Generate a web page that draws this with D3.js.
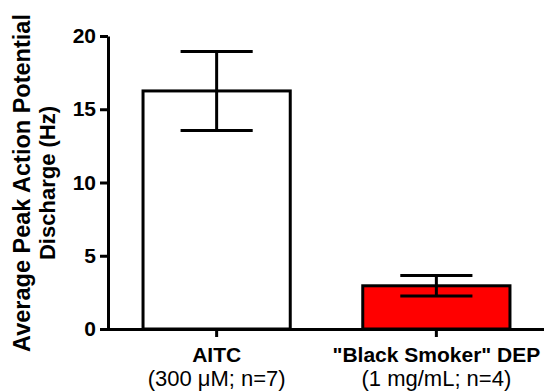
<!DOCTYPE html>
<html>
<head>
<meta charset="utf-8">
<script src="https://cdn.jsdelivr.net/npm/d3@7"></script>
<style>
  body { margin: 0; background: #fff; }
  text { font-family: "Liberation Sans", Arial, sans-serif; fill: #000; }
</style>
</head>
<body>
<svg id="chart" width="544" height="392"></svg>
<script>
var groups = ["AITC", "\"Black Smoker\" DEP"];
var subLabels = ["(300 \u03bcM; n=7)", "(1 mg/mL; n=4)"];
var means = [16.25, 2.95];
var errors = [2.7, 0.7];
var colors = ["#FFFFFF", "#FF0000"];
var yTicks = [0, 5, 10, 15, 20];

var svg = d3.select("#chart");

var x = d3.scaleBand()
    .domain(groups)
    .range([107, 546])
    .paddingInner(0.33)
    .paddingOuter(0.164);

var y = d3.scaleLinear()
    .domain([0, 20])
    .range([329, 36]);

// bars
svg.selectAll(".bar")
    .data(groups)
    .enter().append("rect")
    .attr("class", "bar")
    .attr("x", function (d) { return x(d); })
    .attr("y", function (d, i) { return y(means[i]); })
    .attr("width", x.bandwidth())
    .attr("height", function (d, i) { return y(0) - y(means[i]); })
    .style("fill", function (d, i) { return colors[i]; })
    .style("stroke", "#000")
    .style("stroke-width", 3);

// error bars
var capHalf = x.bandwidth() * 0.245;
groups.forEach(function (g, i) {
    var cx = x(g) + x.bandwidth() / 2;
    var top = y(means[i] + errors[i]);
    var bot = y(means[i] - errors[i]);
    var eb = svg.append("g").style("stroke", "#000").style("stroke-width", 3);
    eb.append("line").attr("x1", cx).attr("x2", cx).attr("y1", top).attr("y2", bot);
    eb.append("line").attr("x1", cx - capHalf).attr("x2", cx + capHalf).attr("y1", top).attr("y2", top);
    eb.append("line").attr("x1", cx - capHalf).attr("x2", cx + capHalf).attr("y1", bot).attr("y2", bot);
});

// y axis
var yAxis = svg.append("g")
    .attr("transform", "translate(108,0)")
    .call(d3.axisLeft(y).tickValues(yTicks).tickSize(8).tickPadding(4).tickSizeOuter(0));
yAxis.select(".domain").style("stroke-width", 3);
yAxis.selectAll(".tick line").style("stroke-width", 3);
yAxis.selectAll(".tick text")
    .style("font-size", "21px")
    .style("font-weight", "bold")
    .style("font-family", "'Liberation Sans', Arial, sans-serif");

// x axis
var xAxis = svg.append("g")
    .attr("transform", "translate(0,329)")
    .call(d3.axisBottom(x).tickSize(8).tickSizeOuter(0).tickFormat(""));
xAxis.select(".domain").style("stroke-width", 3);
xAxis.selectAll(".tick line").style("stroke-width", 3);

// x labels
groups.forEach(function (g, i) {
    var cx = x(g) + x.bandwidth() / 2;
    svg.append("text")
        .attr("x", cx).attr("y", 362)
        .attr("text-anchor", "middle")
        .style("font-size", "21px")
        .style("font-weight", "bold")
        .text(g);
    svg.append("text")
        .attr("x", cx).attr("y", 386)
        .attr("text-anchor", "middle")
        .style("font-size", "22px")
        .text(subLabels[i]);
});

// y title
var yt = svg.append("g").attr("transform", "translate(0,183) rotate(-90)");
yt.append("text")
    .attr("x", 0).attr("y", 30)
    .attr("text-anchor", "middle")
    .style("font-size", "23.5px")
    .style("font-weight", "bold")
    .text("Average Peak Action Potential");
yt.append("text")
    .attr("x", 0).attr("y", 55)
    .attr("text-anchor", "middle")
    .style("font-size", "22px")
    .style("font-weight", "bold")
    .text("Discharge (Hz)");
</script>
</body>
</html>
